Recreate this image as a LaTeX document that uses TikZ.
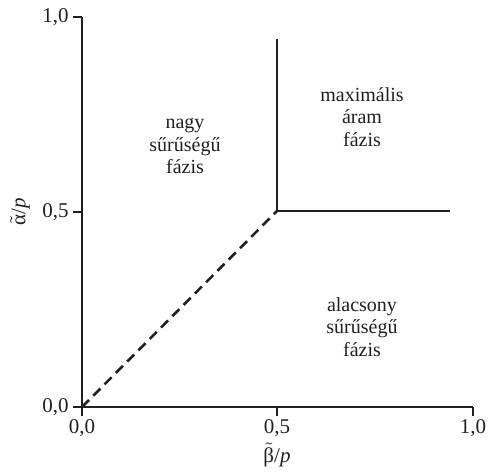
\documentclass[tikz,border=0pt]{standalone}
\usepackage{fontspec}
\setmainfont{Liberation Serif}
\definecolor{ink}{RGB}{35,31,32}
\newcommand\tgreek[1]{$\tilde{\mbox{#1}}$}
\begin{document}
\begin{tikzpicture}[x=0.5pt,y=-0.5pt,
  axis/.style={draw=ink,line width=1pt},
  phase/.style={draw=ink,line width=1.4pt},
  border/.style={draw=ink,line width=1.3pt,dash pattern=on 5pt off 3pt},
  lbl/.style={text=ink,font=\fontsize{10}{11.2}\selectfont,align=center,inner sep=0pt},
  tick/.style={text=ink,font=\fontsize{10.5}{12}\selectfont,inner sep=0pt}]
\useasboundingbox (0,0) rectangle (493,472);
% axes
\coordinate (O) at (82,407);
\coordinate (Ytop) at (82,17);
\coordinate (Xend) at (473,407);
\draw[axis] (Ytop) -- (O) -- (Xend);
% ticks
\draw[axis] (73,17) -- (82,17) (73,212) -- (82,212) (73,407) -- (82,407);
\draw[axis] (82,407) -- (82,416) (277,407) -- (277,416) (473,407) -- (473,416);
% tick labels
\node[tick,anchor=east] (y10) at (69,17) {1,0};
\node[tick,anchor=east] (y05) at (69,212) {0,5};
\node[tick,anchor=east] (y00) at (69,407) {0,0};
\node[tick,anchor=north] (x00) at (82,419) {0,0};
\node[tick,anchor=north] (x05) at (277,419) {0,5};
\node[tick,anchor=north] (x10) at (473,419) {1,0};
% axis labels
\node[tick] (xl) at (277,455) {\tgreek{β}/\textit{p}};
\node[tick,rotate=90] (yl) at (20,212) {\tgreek{α}/\textit{p}};
% phase boundaries
\coordinate (T) at (277,211);
\coordinate (Vtop) at (277,39);
\coordinate (Hend) at (450,211);
\draw[border] (O) -- (T);
\draw[phase] (Vtop) -- (T) -- (Hend);
% phase labels
\node[lbl] (hd) at (185,146) {nagy\\sűrűségű\\fázis};
\node[lbl] (mc) at (362,117) {maximális\\áram\\fázis};
\node[lbl] (ld) at (362,327) {alacsony\\sűrűségű\\fázis};
\end{tikzpicture}
\end{document}
